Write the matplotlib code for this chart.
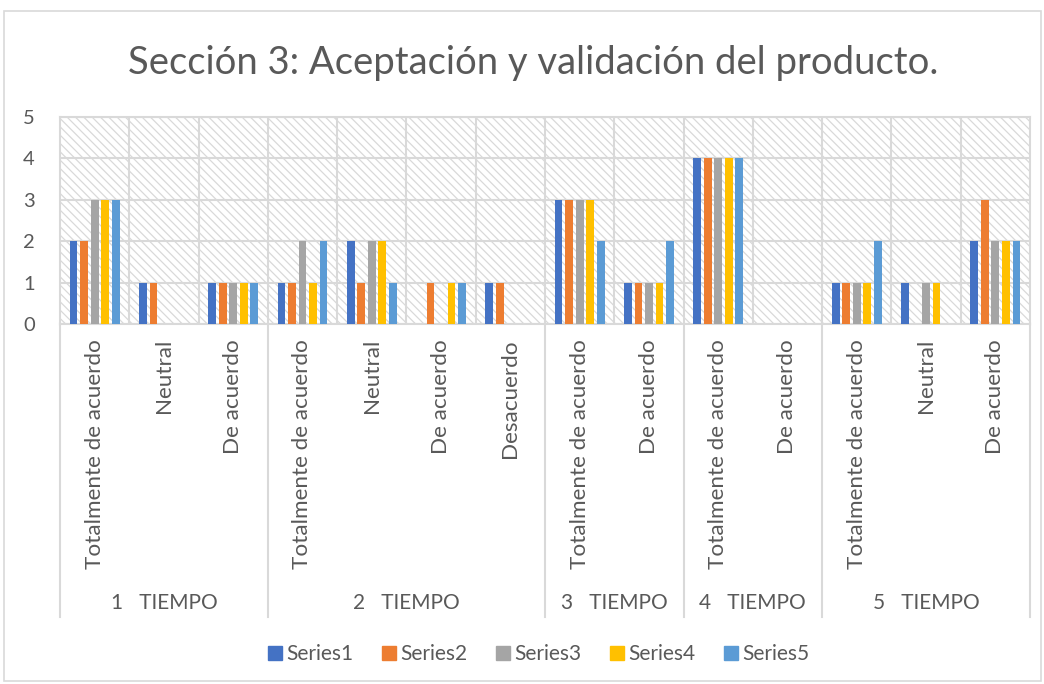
import numpy as np
import matplotlib
matplotlib.use("Agg")
import matplotlib.pyplot as plt
from matplotlib.lines import Line2D
from matplotlib.patches import Rectangle
from matplotlib.transforms import blended_transform_factory

plt.rcParams['font.family'] = ['Lato', 'DejaVu Sans']
plt.rcParams['hatch.color'] = '#dedede'
plt.rcParams['hatch.linewidth'] = 0.9

# datos
grupos = ["1   TIEMPO", "2   TIEMPO", "3   TIEMPO", "4   TIEMPO", "5   TIEMPO"]
categorias = [
    ["Totalmente de acuerdo", "Neutral", "De acuerdo"],
    ["Totalmente de acuerdo", "Neutral", "De acuerdo", "Desacuerdo"],
    ["Totalmente de acuerdo", "De acuerdo"],
    ["Totalmente de acuerdo", "De acuerdo"],
    ["Totalmente de acuerdo", "Neutral", "De acuerdo"],
]
series1 = [2, 1, 1, 1, 2, 0, 1, 3, 1, 4, 0, 1, 1, 2]
series2 = [2, 1, 1, 1, 1, 1, 1, 3, 1, 4, 0, 1, 0, 3]
series3 = [3, 0, 1, 2, 2, 0, 0, 3, 1, 4, 0, 1, 1, 2]
series4 = [3, 0, 1, 1, 2, 1, 0, 3, 1, 4, 0, 1, 1, 2]
series5 = [3, 0, 1, 2, 1, 1, 0, 2, 2, 4, 0, 2, 0, 2]
nombres = ["Series1", "Series2", "Series3", "Series4", "Series5"]
colores = ["#4472C4", "#ED7D31", "#A5A5A5", "#FFC000", "#5B9BD5"]

W, H = 1044, 684
fig = plt.figure(figsize=(W / 100, H / 100), dpi=100)
gris = '#595959'
linea = '#d9d9d9'

# borde del grafico
fig.patches.append(Rectangle((4 / W, 1 - 681 / H), 1037 / W, 670 / H, transform=fig.transFigure,
                             facecolor='none', edgecolor=linea, lw=1.2))

fig.text(533 / W, 1 - 63 / H, "Sección 3: Aceptación y validación del producto.",
         ha='center', va='center', fontsize=27.5, color=gris)

x0, x1, ytop, ybot = 60, 1030, 117, 324
ax = fig.add_axes([x0 / W, 1 - ybot / H, (x1 - x0) / W, (ybot - ytop) / H])

n = len(series1)
x = np.arange(n)
todas = [series1, series2, series3, series4, series5]
paso, ancho = 0.152, 0.112
for i, (vals, nom, col) in enumerate(zip(todas, nombres, colores)):
    ax.bar(x + (i - 2) * paso, vals, ancho, color=col, label=nom, zorder=3)

ax.set_xlim(-0.5, n - 0.5)
ax.set_ylim(0, 5)
ax.set_yticks(range(6))
ax.tick_params(axis='y', length=0, pad=18, labelsize=14.5, labelcolor=gris)
ax.set_xticks([])

# fondo rayado
ax.add_patch(Rectangle((0, 0), 1, 1, transform=ax.transAxes, facecolor='white',
                       hatch='\\\\\\\\', edgecolor=linea, lw=0, zorder=0))
ax.set_axisbelow(True)
ax.grid(axis='y', color=linea, lw=1.5, zorder=1)
for b in np.arange(0.5, n - 1, 1.0):
    ax.axvline(b, color=linea, lw=1.5, zorder=1)
for s in ax.spines.values():
    s.set_color(linea)
    s.set_linewidth(1.5)

# eje de categorias multinivel
tr = blended_transform_factory(ax.transData, fig.transFigure)
y_cat = 1 - 339 / H
y_grp = 1 - 603 / H
y_fin = 1 - 617 / H
pos = 0
limites = [-0.5]
for g, cats in zip(grupos, categorias):
    for c in cats:
        ax.text(pos, y_cat, c, transform=tr, rotation=90, ha='center', va='top',
                fontsize=16.2, color=gris, clip_on=False)
        pos += 1
    ax.text(pos - len(cats) / 2 - 0.5, y_grp, g, transform=tr, ha='center', va='center',
            fontsize=15, color=gris, clip_on=False)
    limites.append(pos - 0.5)
for b in limites:
    ax.add_line(Line2D([b, b], [1 - ybot / H, y_fin], transform=tr, color=linea,
                       lw=1.5, clip_on=False))

handles = [Line2D([], [], marker='s', ls='none', color=c, markersize=10) for c in colores]
fig.legend(handles, nombres, loc='center', bbox_to_anchor=(538 / W, 1 - 654 / H), ncol=5,
           frameon=False, fontsize=15, handletextpad=0.1, columnspacing=1.35,
           labelcolor=gris, handlelength=0.8)

fig.savefig("out.png", dpi=100)
